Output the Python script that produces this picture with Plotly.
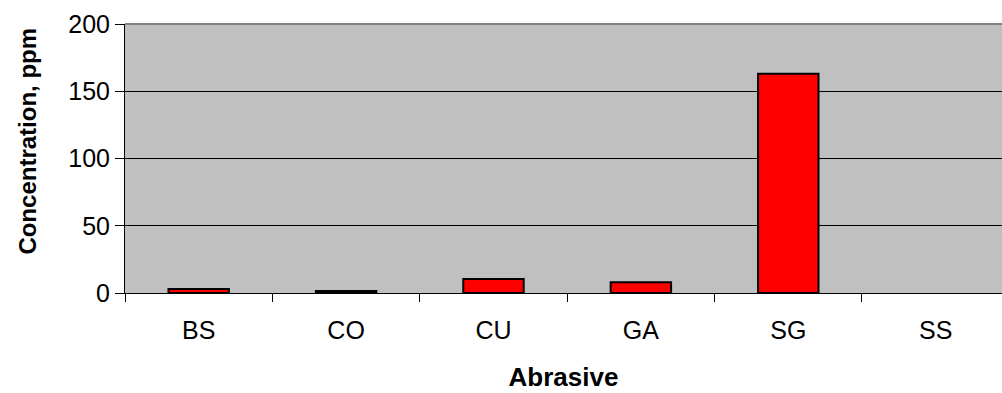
import plotly.graph_objects as go

# Abrasive types and measured concentration (ppm)
abrasives = ["BS", "CO", "CU", "GA", "SG", "SS"]
concentration = [3, 1.5, 10.5, 8, 163, 0]
bar_colors = ["#FF0000", "#000000", "#FF0000", "#FF0000", "#FF0000", "#FF0000"]
y_ticks = [0, 50, 100, 150, 200]

FONT = "Liberation Sans, Arial, sans-serif"

W, H = 1002, 393
L, T, B = 124.5, 23.5, 99.5

# no outline on empty bars
outline_widths = [2 if v > 0 else 0 for v in concentration]

fig = go.Figure(
    go.Bar(
        x=abrasives,
        y=concentration,
        width=0.41,
        marker=dict(color=bar_colors, line=dict(color="#000000", width=outline_widths)),
        hoverinfo="x+y",
    )
)

fig.update_layout(
    width=W,
    height=H,
    margin=dict(l=L, r=0, t=T, b=B, pad=0),
    paper_bgcolor="#FFFFFF",
    plot_bgcolor="#C0C0C0",
    showlegend=False,
    font=dict(family=FONT, size=25, color="#000000"),
    xaxis=dict(
        type="category",
        range=[-0.5, 5.45],
        ticks="outside",
        tickson="boundaries",
        ticklen=8,
        tickwidth=1,
        tickcolor="#000000",
        showline=True,
        linecolor="#000000",
        linewidth=1,
        showgrid=False,
        tickfont=dict(size=25),
        ticklabelstandoff=15,
        title=dict(text="<b>Abrasive</b>", font=dict(size=26), standoff=24),
    ),
    yaxis=dict(
        range=[0, 200],
        tickvals=y_ticks,
        ticks="outside",
        ticklen=9,
        tickwidth=1,
        tickcolor="#000000",
        showline=True,
        linecolor="#000000",
        linewidth=1,
        showgrid=True,
        gridcolor="#000000",
        gridwidth=1,
        zeroline=False,
        tickfont=dict(size=25),
    ),
    annotations=[
        dict(
            text="<b>Concentration, ppm</b>",
            xref="paper", yref="paper",
            x=-(L - 27) / (W - L), y=1 - (141 - T) / (H - T - B),
            xanchor="center", yanchor="middle",
            textangle=-90, showarrow=False,
            font=dict(size=24),
        )
    ],
    shapes=[
        # plot-area top border
        dict(type="line", xref="paper", yref="paper", x0=0, x1=1, y0=1, y1=1,
             line=dict(color="#808080", width=2), layer="above"),
    ],
)

fig.write_html("out.html")
